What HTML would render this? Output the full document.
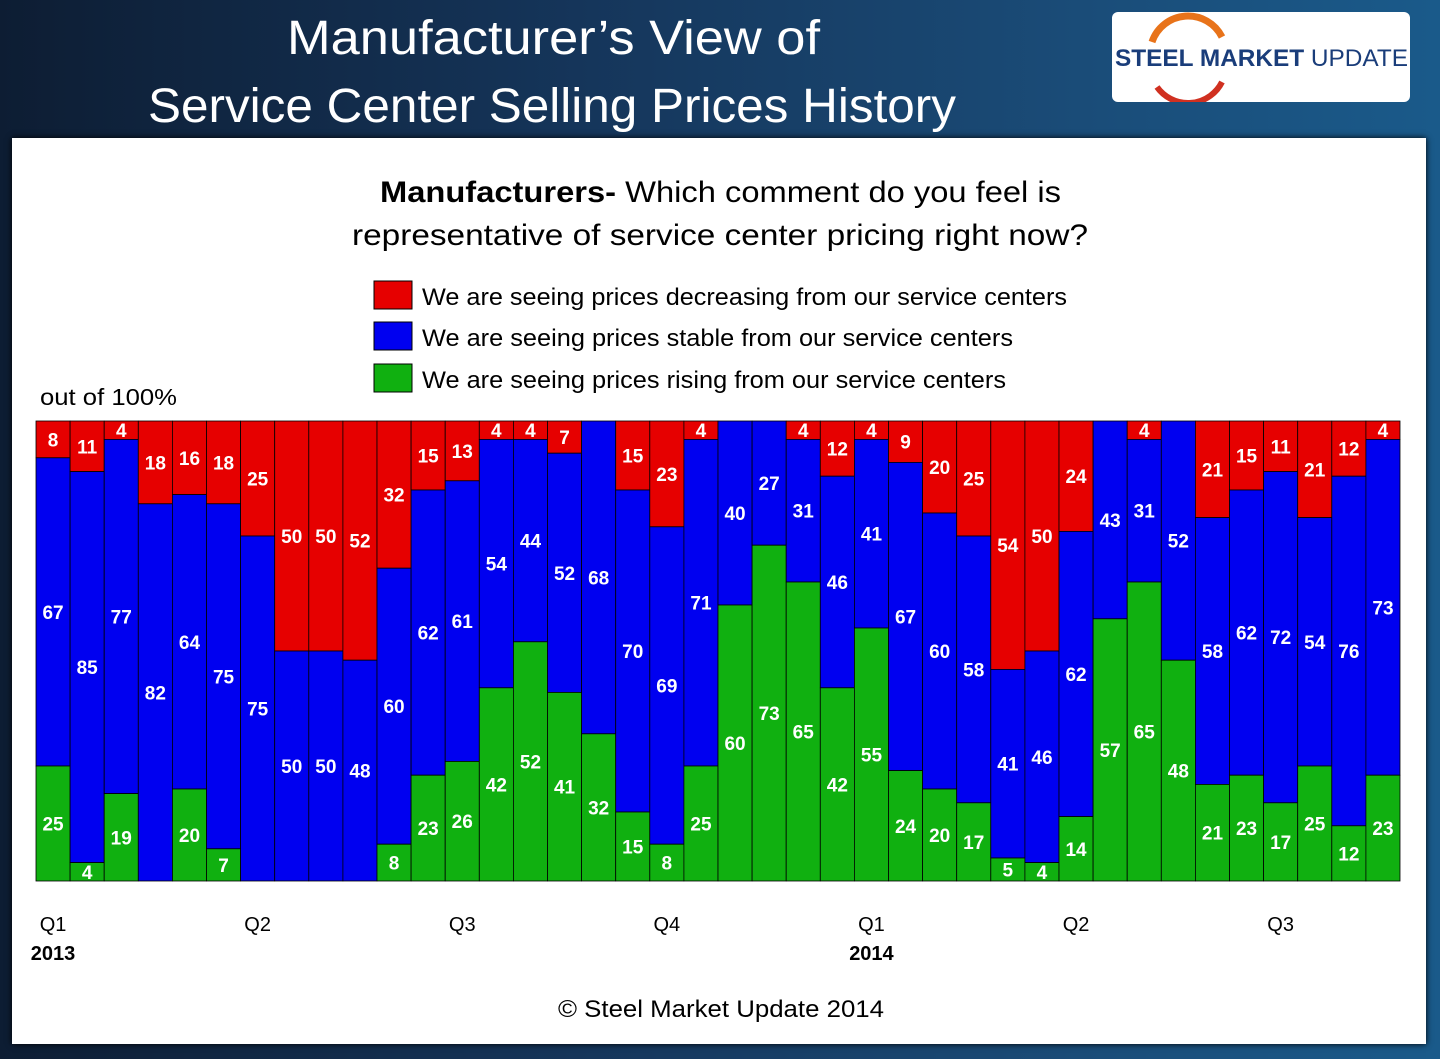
<!DOCTYPE html>
<html><head><meta charset="utf-8">
<style>
body{margin:0;width:1440px;height:1059px;overflow:hidden;font-family:"Liberation Sans",sans-serif;
background:linear-gradient(90deg,#0d1d33 0%,#15355a 40%,#1a4c78 75%,#1a5a8a 100%);position:relative}
#logo{position:absolute;left:1112px;top:12px;width:298px;height:90px;background:#fff;border-radius:6px}
#panel{position:absolute;left:12px;top:138px;width:1414px;height:906px;background:#fff;box-shadow:0 0 6px #000}
</style></head><body>
<div id="logo">
<svg width="298" height="90"><path d="M40 30 A38 38 0 0 1 110 25" fill="none" stroke="#e8731a" stroke-width="7"/><path d="M110 70 A38 38 0 0 1 45 75" fill="none" stroke="#d03020" stroke-width="6"/>
<text x="3" y="54" font-size="24" font-weight="bold" fill="#1a3d7a" font-family="Liberation Sans" textLength="293" lengthAdjust="spacingAndGlyphs">STEEL MARKET <tspan font-weight="normal">UPDATE</tspan></text></svg></div>
<div id="panel"></div>
<svg id="chart" width="1440" height="1059" style="position:absolute;left:0;top:0" font-family="Liberation Sans, sans-serif">
<text x="287" y="54" font-size="48" fill="#fff" textLength="533" lengthAdjust="spacingAndGlyphs">Manufacturer’s View of</text>
<text x="148" y="122" font-size="48" fill="#fff" textLength="808" lengthAdjust="spacingAndGlyphs">Service Center Selling Prices History</text>
<text x="380" y="202" font-size="30" textLength="681" lengthAdjust="spacingAndGlyphs"><tspan font-weight="bold">Manufacturers-</tspan> Which comment do you feel is</text>
<text x="352" y="245" font-size="30" textLength="736" lengthAdjust="spacingAndGlyphs">representative of service center pricing right now?</text>
<g>
<rect x="374" y="281" width="38" height="28" fill="#e60000" stroke="#000"/><text x="422" y="305" font-size="24" textLength="645" lengthAdjust="spacingAndGlyphs">We are seeing prices decreasing from our service centers</text>
<rect x="374" y="322" width="38" height="28" fill="#0000f0" stroke="#000"/><text x="422" y="346" font-size="24" textLength="591" lengthAdjust="spacingAndGlyphs">We are seeing prices stable from our service centers</text>
<rect x="374" y="364" width="38" height="28" fill="#10b010" stroke="#000"/><text x="422" y="388" font-size="24" textLength="584" lengthAdjust="spacingAndGlyphs">We are seeing prices rising from our service centers</text>
</g>
<text x="40" y="405" font-size="23" textLength="137" lengthAdjust="spacingAndGlyphs">out of 100%</text>
<g id="bars"></g>
<text x="558" y="1017" font-size="24" textLength="326" lengthAdjust="spacingAndGlyphs">© Steel Market Update 2014</text>
</svg>
<script>
const decreasing=[8,11,4,18,16,18,25,50,50,52,32,15,13,4,4,7,0,15,23,4,0,0,4,12,4,9,20,25,54,50,24,0,4,0,21,15,11,21,12,4];
const stable=[67,85,77,82,64,75,75,50,50,48,60,62,61,54,44,52,68,70,69,71,40,27,31,46,41,67,60,58,41,46,62,43,31,52,58,62,72,54,76,73];
const rising=[25,4,19,0,20,7,0,0,0,0,8,23,26,42,52,41,32,15,8,25,60,73,65,42,55,24,20,17,5,4,14,57,65,48,21,23,17,25,12,23];
const quarterLabels=["Q1","Q2","Q3","Q4","Q1","Q2","Q3"];
const quarterIdx=[0,6,12,18,24,30,36];
const yearLabels=["2013","2014"];
const yearIdx=[0,24];
const X0=36,X1=1400,Y0=421,Y1=881,n=decreasing.length,bw=(X1-X0)/n;
const xs=i=>X0+i*bw, ys=v=>Y0+(Y1-Y0)*v/100;
const g=document.getElementById('bars'),NS='http://www.w3.org/2000/svg';
function seg(i,a,b,col,v,nm){
 const r=document.createElementNS(NS,'rect');
 r.setAttribute('x',xs(i));r.setAttribute('y',ys(a));r.setAttribute('width',bw);r.setAttribute('height',ys(b)-ys(a));
 r.setAttribute('fill',col);r.setAttribute('stroke','#000');r.setAttribute('stroke-width','0.8');
 
 
 g.appendChild(r);
 if(v>0){const t=document.createElementNS(NS,'text');
 t.setAttribute('x',xs(i)+bw/2);t.setAttribute('y',(ys(a)+ys(b))/2+7);t.setAttribute('text-anchor','middle');
 t.setAttribute('fill','#fff');t.setAttribute('font-size','19');t.setAttribute('font-weight','bold');
 
 
 t.textContent=v;g.appendChild(t);}
}
for(let i=0;i<n;i++){
 seg(i,0,decreasing[i],'#e60000',decreasing[i],'decreasing');
 seg(i,decreasing[i],decreasing[i]+stable[i],'#0000f0',stable[i],'stable');
 seg(i,decreasing[i]+stable[i],100,'#10b010',rising[i],'rising');
}
quarterLabels.forEach((q,k)=>{const t=document.createElementNS(NS,'text');
 t.setAttribute('x',xs(quarterIdx[k])+bw/2);t.setAttribute('y',931);t.setAttribute('text-anchor','middle');t.setAttribute('font-size','20');
 
 
 t.textContent=q;g.appendChild(t);});
yearLabels.forEach((y,k)=>{const t=document.createElementNS(NS,'text');
 t.setAttribute('x',xs(yearIdx[k])+bw/2);t.setAttribute('y',960);t.setAttribute('text-anchor','middle');t.setAttribute('font-size','20');t.setAttribute('font-weight','bold');
 
 
 t.textContent=y;g.appendChild(t);});
</script>
</body></html>
